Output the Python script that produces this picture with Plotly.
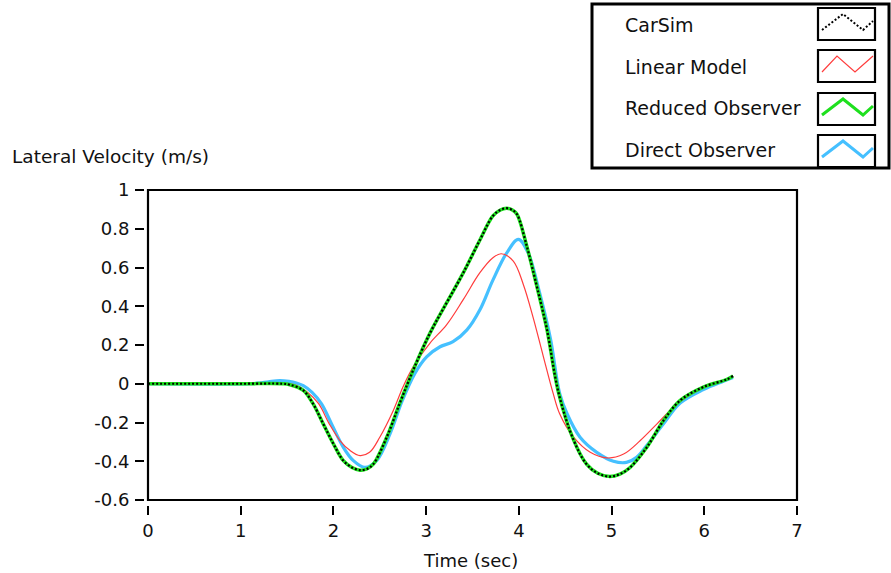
import plotly.graph_objects as go

# ---------------- data ----------------
series_names = ["CarSim", "Linear Model", "Reduced Observer", "Direct Observer"]

carsim_t = [0, 1.0, 1.45, 1.53, 1.675, 1.78, 1.89, 2.0, 2.107, 2.2, 2.287, 2.36, 2.43, 2.575, 2.72,
            2.86, 3.04, 3.22, 3.40, 3.58, 3.72, 3.80, 3.87, 3.93, 3.98, 4.08, 4.19, 4.30, 4.43, 4.59,
            4.73, 4.85, 4.98, 5.09, 5.20, 5.38, 5.56, 5.74, 5.99, 6.24, 6.31]
carsim_v = [0, 0, 0, -0.005, -0.034, -0.103, -0.207, -0.31, -0.397, -0.432, -0.446, -0.44, -0.415,
            -0.276, -0.095, 0.07, 0.26, 0.417, 0.572, 0.742, 0.866, 0.897, 0.906, 0.897, 0.875, 0.72,
            0.51, 0.287, -0.05, -0.29, -0.415, -0.462, -0.479, -0.466, -0.432, -0.328, -0.19, -0.086,
            -0.017, 0.022, 0.04]

reduced_t = [0, 1.0, 1.45, 1.53, 1.675, 1.78, 1.89, 2.0, 2.107, 2.2, 2.287, 2.36, 2.43, 2.575, 2.72,
             2.86, 3.04, 3.22, 3.40, 3.58, 3.72, 3.80, 3.87, 3.93, 3.98, 4.08, 4.19, 4.30, 4.43, 4.59,
             4.73, 4.85, 4.98, 5.09, 5.20, 5.38, 5.56, 5.74, 5.99, 6.24, 6.31]
reduced_v = [0, 0, 0, -0.005, -0.034, -0.103, -0.207, -0.31, -0.397, -0.432, -0.446, -0.44, -0.415,
             -0.276, -0.095, 0.07, 0.26, 0.417, 0.572, 0.742, 0.866, 0.897, 0.906, 0.897, 0.875, 0.72,
             0.51, 0.287, -0.05, -0.29, -0.415, -0.462, -0.479, -0.466, -0.432, -0.328, -0.19, -0.086,
             -0.017, 0.022, 0.04]

linear_t = [0, 1.0, 1.5, 1.6, 1.71, 1.84, 1.955, 2.07, 2.18, 2.287, 2.39, 2.50, 2.646, 2.75, 2.86,
            3.04, 3.22, 3.40, 3.58, 3.72, 3.81, 3.94, 4.05, 4.155, 4.26, 4.37, 4.44, 4.59, 4.77,
            4.95, 5.13, 5.31, 5.49, 5.67, 5.81, 5.99, 6.24, 6.31]
linear_v = [0, 0, 0, -0.008, -0.04, -0.103, -0.207, -0.293, -0.345, -0.371, -0.354, -0.276, -0.138,
            -0.017, 0.087, 0.209, 0.304, 0.434, 0.573, 0.65, 0.671, 0.633, 0.51, 0.34, 0.148, -0.05,
            -0.155, -0.276, -0.354, -0.383, -0.363, -0.293, -0.207, -0.12, -0.069, -0.02, 0.022, 0.04]

direct_t = [0, 1.1, 1.2, 1.3, 1.42, 1.52, 1.6, 1.675, 1.77, 1.87, 1.98, 2.107, 2.215, 2.34, 2.466,
            2.61, 2.74, 2.88, 3.005, 3.15, 3.29, 3.44, 3.58, 3.72, 3.87, 3.995, 4.10, 4.21, 4.34,
            4.44, 4.52, 4.66, 4.84, 5.02, 5.16, 5.27, 5.38, 5.56, 5.74, 5.99, 6.2, 6.31]
direct_v = [0, 0, 0.004, 0.01, 0.016, 0.012, 0.004, -0.01, -0.045, -0.103, -0.207, -0.328, -0.397,
            -0.432, -0.397, -0.259, -0.09, 0.055, 0.139, 0.191, 0.217, 0.278, 0.382, 0.535, 0.676,
            0.745, 0.676, 0.495, 0.235, -0.05, -0.155, -0.276, -0.354, -0.40, -0.406, -0.38, -0.319,
            -0.207, -0.10, -0.03, 0.012, 0.032]

x_ticks = [0, 1, 2, 3, 4, 5, 6, 7]
y_ticks = [-0.6, -0.4, -0.2, 0, 0.2, 0.4, 0.6, 0.8, 1]
y_tick_text = ["-0.6", "-0.4", "-0.2", "0", "0.2", "0.4", "0.6", "0.8", "1"]

x_title = "Time (sec)"
y_title = "Lateral Velocity (m/s)"

# ---------------- style ----------------
FONT = "DejaVu Sans"
W, H = 891, 573
ML, MR, MT, MB = 144, 94, 190, 68
PW, PH = W - ML - MR, H - MT - MB
GAP_X, GAP_Y = 4, 5  # gap between frame and tick marks (px)

def px(x):
    return (x - ML) / PW

def py(y):
    return (H - MB - y) / PH

colors = {"CarSim": "black", "Linear Model": "#FF3C3C",
          "Reduced Observer": "#1EE01E", "Direct Observer": "#45C0FF"}

SM = 1.0
fig = go.Figure()
fig.add_trace(go.Scatter(x=direct_t, y=direct_v, mode="lines", name=series_names[3],
                         line=dict(color=colors["Direct Observer"], width=3.2, shape="spline", smoothing=SM)))
fig.add_trace(go.Scatter(x=linear_t, y=linear_v, mode="lines", name=series_names[1],
                         line=dict(color=colors["Linear Model"], width=1.2, shape="spline", smoothing=SM)))
fig.add_trace(go.Scatter(x=reduced_t, y=reduced_v, mode="lines", name=series_names[2],
                         line=dict(color=colors["Reduced Observer"], width=3.5, shape="spline", smoothing=SM)))
fig.add_trace(go.Scatter(x=carsim_t, y=carsim_v, mode="lines", name=series_names[0],
                         line=dict(color=colors["CarSim"], width=2.2, dash="2px,2px", shape="spline", smoothing=SM)))

shapes = []
# plot frame
shapes.append(dict(type="rect", xref="paper", yref="paper", x0=GAP_X / PW, x1=1, y0=GAP_Y / PH, y1=1,
                   line=dict(color="black", width=2.2), layer="above"))
# legend frame
shapes.append(dict(type="rect", xref="paper", yref="paper", x0=px(592), x1=px(889), y0=py(168), y1=py(4),
                   line=dict(color="black", width=3), fillcolor="white", layer="above"))

annotations = []
legend_rows = [25, 67, 108, 150]
box_tops = [8, 50, 93, 135]
styles = [dict(color="black", width=2, dash="2px,2px"),
          dict(color=colors["Linear Model"], width=1.2),
          dict(color=colors["Reduced Observer"], width=3),
          dict(color=colors["Direct Observer"], width=3)]
for i, name in enumerate(series_names):
    annotations.append(dict(text=name, x=px(623), y=py(legend_rows[i]), xref="paper", yref="paper",
                            xanchor="left", yanchor="middle", showarrow=False,
                            font=dict(family=FONT, size=19, color="#111")))
    yb = box_tops[i]
    shapes.append(dict(type="rect", xref="paper", yref="paper", x0=px(818), x1=px(875),
                       y0=py(yb + 32), y1=py(yb), line=dict(color="black", width=2.2), layer="above"))
    if i == 1:
        pts = [(822, yb + 22), (837, yb + 6), (855, yb + 22), (873, yb + 6)]
    else:
        pts = [(822, yb + 22), (843, yb + 6), (863, yb + 22), (873, yb + 13)]
    path = "M " + " L ".join(f"{px(a):.5f},{py(b):.5f}" for a, b in pts)
    shapes.append(dict(type="path", xref="paper", yref="paper", path=path, line=styles[i], layer="above"))

annotations.append(dict(text=y_title, x=px(10), y=py(157), xref="paper", yref="paper",
                        xanchor="left", yanchor="middle", showarrow=False,
                        font=dict(family=FONT, size=18.5, color="#111")))
annotations.append(dict(text=x_title, x=px(471), y=py(560), xref="paper", yref="paper",
                        xanchor="center", yanchor="middle", showarrow=False,
                        font=dict(family=FONT, size=18, color="#111")))

fig.update_layout(
    width=W, height=H,
    margin=dict(l=ML, r=MR, t=MT, b=MB, pad=0),
    paper_bgcolor="white", plot_bgcolor="white",
    showlegend=False,
    shapes=shapes, annotations=annotations,
    xaxis=dict(domain=[GAP_X / PW, 1], range=[0, 7], anchor="free", position=0,
               showline=False, showgrid=False, zeroline=False,
               ticks="outside", ticklen=9, tickwidth=2, tickcolor="black",
               tickvals=x_ticks, tickfont=dict(family=FONT, size=18, color="#111")),
    yaxis=dict(domain=[GAP_Y / PH, 1], range=[-0.6, 1], anchor="free", position=0,
               showline=False, showgrid=False, zeroline=False,
               ticks="outside", ticklen=9, tickwidth=2, tickcolor="black",
               tickvals=y_ticks, ticktext=y_tick_text, ticklabelstandoff=2,
               tickfont=dict(family=FONT, size=18, color="#111")),
)

fig.write_html("out.html", config={"displayModeBar": False},
               post_script="document.body.style.margin='0';document.body.style.overflow='hidden';")
